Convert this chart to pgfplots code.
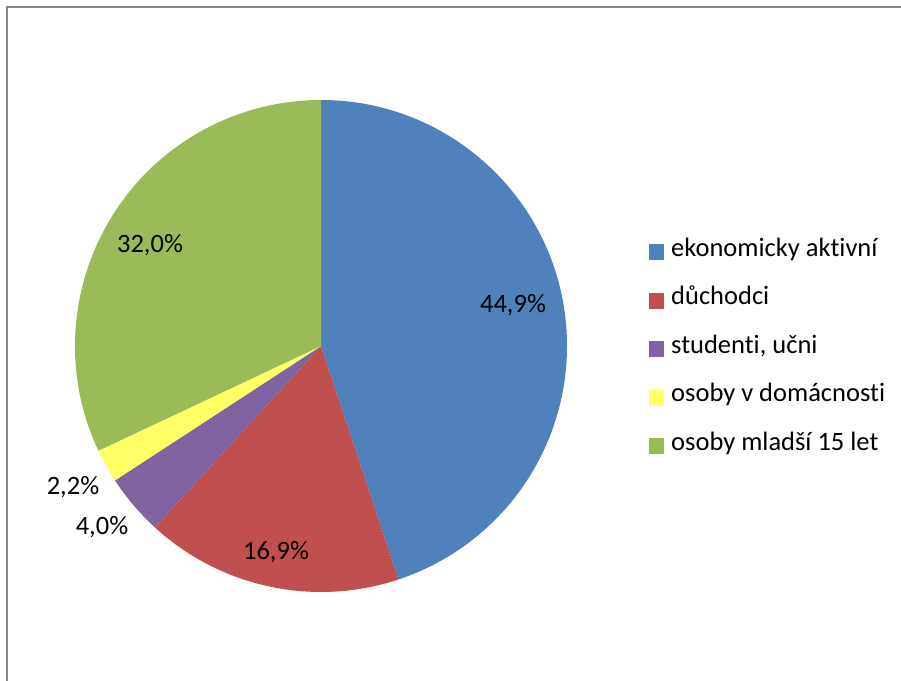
\documentclass[border=0pt]{standalone}
\usepackage{fontspec}
\setmainfont{Carlito}[Ligatures=NoCommon]
\usepackage{pgfplots}
\usepackage{pgfplotstable}
\pgfplotsset{compat=1.18}

\definecolor{slice0}{HTML}{4F81BD}
\definecolor{slice1}{HTML}{C0504D}
\definecolor{slice2}{HTML}{8064A2}
\definecolor{slice3}{HTML}{FFFF66}
\definecolor{slice4}{HTML}{9BBB59}
\definecolor{frame}{HTML}{868686}
\newcommand\chartfont{\fontsize{26.5bp}{31bp}\selectfont}

% share in %, label position (x, baseline y) in picture pixels from the top
\pgfplotstableread{
value lx ly
44.9 513 313
16.9 276 560
4.0  102 535
2.2  73  495
32.0 150 253
}\piedata

\begin{document}
\begin{tikzpicture}[every node/.style={font=\chartfont}]
\begin{axis}[
  scale only axis, width=901bp, height=681bp,
  xmin=0, xmax=901, ymin=0, ymax=681,
  hide axis,
  legend image code/.code={\fill[#1, draw=none] (0bp,-10bp) rectangle (15bp,6bp);},
  legend style={at={(axis cs:649,443)}, anchor=north west, draw=none, fill=none,
    inner sep=0pt, row sep=24.5bp, column sep=7bp, legend cell align=left,
    nodes={inner sep=0pt, text height=18bp, text depth=6bp, font=\chartfont}},
]
\draw[frame, line width=2bp] (axis cs:7,-20) |- (axis cs:920,674);
\gdef\startangle{90}
\pgfplotsforeachungrouped \i in {0,...,4}{%
  \pgfplotstablegetelem{\i}{value}\of\piedata \let\v\pgfplotsretval
  \pgfplotstablegetelem{\i}{lx}\of\piedata \let\lx\pgfplotsretval
  \pgfplotstablegetelem{\i}{ly}\of\piedata \let\ly\pgfplotsretval
  \pgfmathsetmacro\endangle{\startangle-3.6*\v}
  \pgfmathsetmacro\lyy{681-\ly}
  \edef\doslice{%
    \noexpand\fill[slice\i] (axis cs:321,335) -- ++(\startangle:246bp)
      arc[start angle=\startangle, end angle=\endangle, radius=246bp] -- cycle;
    \noexpand\node[anchor=base] at (axis cs:\lx,\lyy)
      {\noexpand\pgfmathprintnumber[assume math mode=true,use comma,fixed,fixed zerofill,precision=1]{\v}\noexpand\%};
  }%
  \doslice
  \global\let\startangle\endangle
}
\addlegendimage{fill=slice0}
\addlegendimage{fill=slice1}
\addlegendimage{fill=slice2}
\addlegendimage{fill=slice3}
\addlegendimage{fill=slice4}
\legend{ekonomicky aktivní, důchodci, {studenti, učni}, osoby v domácnosti, osoby mladší 15 let}
\end{axis}
\pgfresetboundingbox
\useasboundingbox (0,0) rectangle (901bp,681bp);
\end{tikzpicture}
\end{document}
